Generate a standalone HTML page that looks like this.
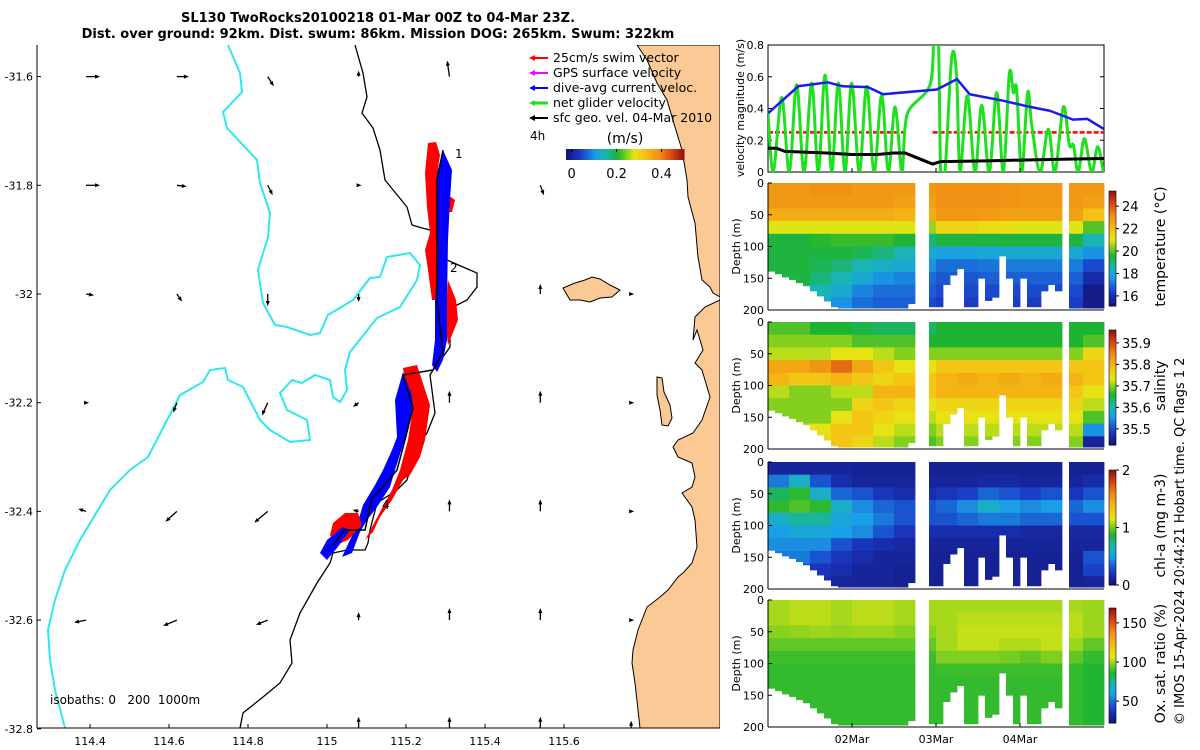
<!DOCTYPE html>
<html><head><meta charset="utf-8"><style>
html,body{margin:0;padding:0;background:#fff;}
svg{display:block;font-family:"DejaVu Sans","Liberation Sans",sans-serif;}
</style></head><body>
<svg id="root" width="1200" height="750" viewBox="0 0 1200 750" xmlns="http://www.w3.org/2000/svg">
<text x="378" y="22" text-anchor="middle" font-size="13" font-weight="bold">SL130 TwoRocks20100218 01-Mar 00Z to 04-Mar 23Z.</text>
<text x="378" y="38" text-anchor="middle" font-size="13" font-weight="bold">Dist. over ground: 92km. Dist. swum: 86km. Mission DOG: 265km. Swum: 322km</text>
<g id="map"></g>
<g id="vel"></g>
<g id="heat"></g>
<text transform="translate(1184,725) rotate(-90)" font-size="13">© IMOS 15-Apr-2024 20:44:21 Hobart time. QC flags 1  2</text>
</svg>
<script>
// ---------- velocity panel data ----------
const blueT=[0,0.36,0.71,0.89,1.19,1.37,2.01,2.25,2.4,2.79,3.12,3.36,3.63,3.8,4.0];
const blueV=[0.37,0.54,0.565,0.54,0.535,0.49,0.52,0.585,0.49,0.45,0.41,0.385,0.33,0.335,0.27];
const blackT=[0,0.1,0.2,0.7,1.0,1.3,1.5,1.63,1.96,2.05,2.6,3.0,3.5,4.0];
const blackV=[0.15,0.15,0.13,0.12,0.11,0.11,0.12,0.12,0.05,0.065,0.07,0.075,0.08,0.085];
const greenT=[0,0.063,0.163,0.254,0.341,0.429,0.52,0.599,0.679,0.758,0.837,0.917,0.996,1.087,1.175,1.262,1.353,1.433,1.512,1.591,1.631,1.69,1.929,1.976,2.028,2.056,2.107,2.187,2.246,2.286,2.373,2.464,2.544,2.635,2.722,2.802,2.873,2.921,2.96,3.02,3.091,3.139,3.238,3.337,3.417,3.516,3.587,3.635,3.694,3.766,3.853,3.925,3.992];
const greenV=[0.37,0,0.47,0,0.55,0,0.56,0,0.61,0,0.56,0,0.56,0,0.54,0,0.48,0,0.41,0,0.28,0.4,0.55,0.85,0.85,0,0,0.72,0.6,0,0.48,0,0.42,0,0.5,0,0.62,0.5,0.52,0,0.5,0.3,0,0.27,0,0.41,0.17,0.17,0,0.21,0,0.16,0];
const swimSegs=[[0,1.63],[1.96,4.0]];
const swimV=0.25;
const velTicks=[0,0.2,0.4,0.6,0.8];
const dateTicks=[1,2,3];
const dateLabels=["02Mar","03Mar","04Mar"];
// ---------- section data (columns of 6h, rows of 20 m) ----------
const tempGrid=[
[23,23,22.5,21,19.5,19.5,19.5,19.5,19,19],[23,23,22.5,21,19.5,19.5,19.5,19.5,19,18.5],
[23.2,23,22.5,21,19.7,19.5,19.3,19,18.5,18],[23.2,23,22.5,21,19.8,19.5,19,18.5,18,17.5],
[23,23,22.5,21,19.8,19.3,18.5,18,17.3,17],[23,23,22.5,21,19.8,19,18.2,17.5,17,16.8],
[23,22.8,22.3,21,19.6,18.5,18,17.3,17,16.8],[23,22.8,22.5,20.5,19,18,17.5,17,16.8,16.5],
[23.2,23.2,23,21.5,19.5,17.8,17,16.7,16.5,16.3],[23.2,23.2,23,21.5,19.5,17.8,17,16.7,16.5,16.3],
[23.2,23.2,22.9,21.3,19.5,17.9,17.1,16.8,16.5,16.3],[23.1,23.1,22.8,21.2,19.5,18,17.2,16.8,16.5,16.3],
[23,23,22.8,21,19.5,18,17.2,16.8,16.5,16.3],[23,23,22.8,21,19.5,18,17.2,16.8,16.5,16.3],
[23,23,22.8,21,19.5,18,17.2,16.8,16.5,16.3],[23,22.8,22,20,18.5,17.5,16.5,15.8,15.3,15.3]];
const salGrid=[
[35.68,35.7,35.72,35.82,35.8,35.72,35.7,35.7,35.7,35.7],[35.68,35.7,35.72,35.82,35.78,35.7,35.7,35.7,35.72,35.74],
[35.66,35.7,35.72,35.84,35.78,35.7,35.7,35.7,35.74,35.76],[35.66,35.7,35.74,35.88,35.8,35.72,35.7,35.74,35.78,35.78],
[35.65,35.68,35.74,35.82,35.78,35.72,35.76,35.78,35.78,35.76],[35.64,35.68,35.72,35.78,35.76,35.8,35.78,35.76,35.74,35.72],
[35.64,35.68,35.7,35.74,35.78,35.8,35.76,35.74,35.72,35.7],[35.64,35.66,35.7,35.74,35.78,35.78,35.74,35.72,35.7,35.68],
[35.66,35.66,35.7,35.78,35.8,35.8,35.76,35.74,35.72,35.7],[35.66,35.66,35.7,35.78,35.81,35.8,35.76,35.74,35.72,35.7],
[35.66,35.66,35.7,35.78,35.8,35.8,35.76,35.74,35.72,35.7],[35.66,35.66,35.7,35.78,35.81,35.8,35.76,35.74,35.72,35.7],
[35.66,35.66,35.7,35.78,35.8,35.8,35.76,35.74,35.72,35.7],[35.66,35.66,35.7,35.78,35.81,35.8,35.76,35.74,35.72,35.7],
[35.66,35.66,35.7,35.78,35.8,35.78,35.76,35.74,35.72,35.7],[35.66,35.68,35.76,35.78,35.78,35.74,35.72,35.68,35.55,35.45]];
const chlGrid=[
[0.1,0.4,0.8,0.9,0.6,0.5,0.45,0.4,0.3,0.3],[0.1,0.6,0.9,0.95,0.7,0.55,0.45,0.4,0.3,0.3],
[0.1,0.3,0.6,0.9,0.7,0.55,0.45,0.3,0.2,0.15],[0.1,0.15,0.35,0.6,0.55,0.5,0.3,0.2,0.15,0.1],
[0.08,0.1,0.3,0.45,0.5,0.45,0.2,0.15,0.1,0.1],[0.08,0.1,0.2,0.35,0.4,0.3,0.15,0.1,0.1,0.1],
[0.08,0.1,0.15,0.3,0.3,0.2,0.12,0.1,0.08,0.08],[0.08,0.1,0.15,0.3,0.3,0.15,0.1,0.08,0.08,0.08],
[0.08,0.1,0.2,0.35,0.3,0.15,0.1,0.08,0.08,0.08],[0.08,0.1,0.25,0.45,0.35,0.15,0.1,0.08,0.08,0.08],
[0.08,0.12,0.35,0.6,0.4,0.15,0.1,0.08,0.08,0.08],[0.08,0.12,0.3,0.5,0.4,0.15,0.1,0.08,0.08,0.08],
[0.08,0.1,0.25,0.45,0.35,0.12,0.1,0.08,0.08,0.08],[0.08,0.1,0.3,0.5,0.35,0.12,0.1,0.08,0.08,0.08],
[0.08,0.1,0.2,0.35,0.3,0.12,0.1,0.08,0.08,0.08],[0.08,0.15,0.3,0.45,0.3,0.12,0.1,0.3,0.25,0.1]];
const oxyGrid=[
[101,101,98,94,90,89,89,89,89,89],[103,103,99,94,90,89,89,89,89,89],[103,103,100,94,90,89,89,89,89,89],
[101,101,99,94,90,89,89,89,89,89],[103,103,100,94,90,89,89,89,89,89],[103,103,100,94,90,89,89,89,89,89],
[101,101,98,94,90,89,89,89,89,89],[101,101,98,94,90,89,89,89,89,89],[101,101,101,101,97,90,89,89,89,89],
[101,103,104,104,97,90,89,89,89,89],[101,103,104,104,97,90,89,89,89,89],[101,103,104,102,96,90,89,89,89,89],
[101,103,104,102,94,90,89,89,89,89],[101,103,104,104,97,90,89,89,89,89],[101,103,103,100,94,89,89,89,89,89],
[100,100,100,94,89,87,87,87,87,87]];
const maxDepth=[139,143,148,152,157,162,170,178,186,195,197,197,197,197,197,197,197,197,197,197,190,0,0,195,195,160,145,135,195,195,150,185,180,115,150,195,150,195,195,170,160,170,0,197,197,197,197,197];
const depthTicks=[0,50,100,150,200];
const tempTicks=[16,18,20,22,24], salTicks=[35.5,35.6,35.7,35.8,35.9], chlTicks=[0,1,2], oxyTicks=[50,100,150];
// ---------- map data ----------
const lonTicks=[114.4,114.6,114.8,115,115.2,115.4,115.6];
const latTicks=[-31.6,-31.8,-32,-32.2,-32.4,-32.6,-32.8];
const arrowLon=[114.39,114.62,114.85,115.08,115.31,115.54,115.77];
const arrowLat=[-31.6,-31.8,-32,-32.2,-32.4,-32.6,-32.8];
const arrowU=[[0.24,0.2,0.1,0,-0.04,0,0],[0.24,0.16,0.08,0.02,0,0.06,0],[0.12,0.08,0,0,0,0,0.02],
[0.02,-0.06,-0.1,-0.08,0,0,0.02],[-0.12,-0.2,-0.24,-0.08,0,0,0.02],[-0.2,-0.24,-0.2,0,0,0,0.02],[0,0,0.06,0,0,0,0]];
const arrowV=[[0,0,-0.16,0.08,0.28,0,0],[0,-0.02,-0.16,0,0,-0.16,0],[-0.02,-0.12,-0.2,-0.12,0,0.16,0],
[0,-0.16,-0.22,-0.06,0.2,0.2,0],[0.04,-0.18,-0.2,0.02,0.2,0.2,0],[-0.04,-0.1,-0.08,0.12,0.2,0.2,0],[0,0,-0.08,0.2,0.2,0.2,0.12]];
const cbTicks=[0,0.2,0.4];

const NS="http://www.w3.org/2000/svg";
function el(tag,attrs,parent){const e=document.createElementNS(NS,tag);for(const k in attrs)e.setAttribute(k,attrs[k]);parent.appendChild(e);return e;}
const CM=[[0,[20,20,122]],[0.12,[26,60,200]],[0.25,[26,160,230]],[0.33,[26,180,180]],[0.44,[30,180,50]],[0.52,[140,210,30]],[0.58,[230,230,20]],[0.68,[245,190,20]],[0.8,[240,140,20]],[0.9,[220,70,20]],[1,[150,20,20]]];
function jet(x){x=Math.max(0,Math.min(1,x));for(let i=1;i<CM.length;i++){if(x<=CM[i][0]){const a=CM[i-1],b=CM[i],f=(x-a[0])/(b[0]-a[0]);
 return 'rgb('+a[1].map((c,k)=>Math.round(c+(b[1][k]-c)*f)).join(',')+')';}}return 'rgb(150,20,20)';}

// ===== velocity panel =====
const vel=document.getElementById('vel');
const tx=t=>768+t*84, vy=v=>172-v*158.75;
const vr=el('rect',{x:768,y:45,width:336,height:127,fill:'none',stroke:'#000','stroke-width':1},vel);

velTicks.forEach(v=>{el('line',{x1:768,x2:772,y1:vy(v),y2:vy(v),stroke:'#000'},vel);el('line',{x1:1100,x2:1104,y1:vy(v),y2:vy(v),stroke:'#000'},vel);
 const t=el('text',{x:764,y:vy(v)+4,'text-anchor':'end','font-size':11},vel);t.textContent=v===0?'0':v.toFixed(1);
 });
const vl=el('text',{transform:'translate(744,108) rotate(-90)','text-anchor':'middle','font-size':11},vel);vl.textContent='velocity magnitude (m/s)';

const clipV=el('clipPath',{id:'cv'},vel);el('rect',{x:768,y:45,width:336,height:127},clipV);
const gV=el('g',{'clip-path':'url(#cv)'},vel);
swimSegs.forEach(s=>{const l=el('line',{x1:tx(s[0]),x2:tx(s[1]),y1:vy(swimV),y2:vy(swimV),stroke:'#f00','stroke-width':2.5,'stroke-dasharray':'5 2'},gV);
 });
function poly(T,V,color,w,name,smooth){const P=T.map((t,i)=>[tx(t),vy(V[i])]);let d='M'+P[0][0]+','+P[0][1];
 for(let i=0;i<P.length-1;i++){ if(!smooth){d+=' L'+P[i+1][0]+','+P[i+1][1];continue;}
  const p0=P[Math.max(0,i-1)],p1=P[i],p2=P[i+1],p3=P[Math.min(P.length-1,i+2)];
  const c1=[p1[0]+(p2[0]-p0[0])/6,p1[1]+(p2[1]-p0[1])/6],c2=[p2[0]-(p3[0]-p1[0])/6,p2[1]-(p3[1]-p1[1])/6];
  d+=` C${c1[0]},${c1[1]} ${c2[0]},${c2[1]} ${p2[0]},${p2[1]}`;}
 const p=el('path',{d:d,fill:'none',stroke:color,'stroke-width':w,'stroke-linejoin':'round'},gV);
 }
poly(greenT,greenV,'#1ee01e',3,'net-glider-velocity-line',true);
poly(blackT,blackV,'#000',3,'surface-geo-velocity-line',false);
poly(blueT,blueV,'#1a1aee',2.5,'dive-avg-current-line',false);

// ===== section panels =====
const heat=document.getElementById('heat');
const panels=[
 {top:183,grid:tempGrid,min:15.1,max:25.35,ticks:tempTicks,label:'temperature (°C)',name:'temperature',fmt:v=>String(v)},
 {top:322,grid:salGrid,min:35.425,max:35.96,ticks:salTicks,label:'salinity',name:'salinity',fmt:v=>v.toFixed(1)},
 {top:462,grid:chlGrid,min:0,max:2,ticks:chlTicks,label:'chl-a (mg m-3)',name:'chlorophyll',fmt:v=>String(v)},
 {top:600,grid:oxyGrid,min:22,max:169,ticks:oxyTicks,label:'Ox. sat. ratio (%)',name:'oxygen',fmt:v=>String(v)}];
const H=127, dy=d=>d/200*H;
panels.forEach((P,pi)=>{
 const g=el('g',{},heat);
 maxDepth.forEach((md,i)=>{ if(!md) return; const col=P.grid[Math.floor(i/3)];
  for(let j=0;j<10;j++){const d0=j*20; if(d0>=md) break; const d1=Math.min(md,d0+20);
   const r=el('rect',{x:tx(i/12),y:P.top+dy(d0),width:84/12+0.4,height:dy(d1-d0)+0.4,fill:jet((col[j]-P.min)/(P.max-P.min))},g);
   }});
 el('line',{x1:768,x2:768,y1:P.top,y2:P.top+H,stroke:'#000'},heat);
 el('line',{x1:768,x2:1104,y1:P.top+H,y2:P.top+H,stroke:'#000'},heat);
 depthTicks.forEach(d=>{el('line',{x1:768,x2:772,y1:P.top+dy(d),y2:P.top+dy(d),stroke:'#000'},heat);
  const t=el('text',{x:764,y:P.top+dy(d)+4,'text-anchor':'end','font-size':11},heat);t.textContent=d;
  });
 const dl=el('text',{transform:`translate(740,${P.top+H/2}) rotate(-90)`,'text-anchor':'middle','font-size':11},heat);dl.textContent='Depth (m)';
 
 const cbTop=P.top+8, cbH=115;
 for(let k=0;k<64;k++){const r=el('rect',{x:1109,y:cbTop+cbH-(k+1)*cbH/64,width:7,height:cbH/64+0.5,fill:jet(k/63)},heat);
  }
 el('rect',{x:1109,y:cbTop,width:7,height:cbH,fill:'none',stroke:'#000','stroke-width':0.6},heat);
 P.ticks.forEach(v=>{const y=cbTop+cbH-(v-P.min)/(P.max-P.min)*cbH;el('line',{x1:1116,x2:1119,y1:y,y2:y,stroke:'#000'},heat);
  const t=el('text',{x:1122,y:y+5,'font-size':13},heat);t.textContent=P.fmt(v);
  });
 const cl=el('text',{transform:`translate(1165,${P.top+H/2}) rotate(-90)`,'text-anchor':'middle','font-size':14},heat);cl.textContent=P.label;
 
});
dateTicks.forEach((d,i)=>{[45+127,727].forEach(y=>el('line',{x1:tx(d),x2:tx(d),y1:y,y2:y-4,stroke:'#000'},heat));
 const t=el('text',{x:tx(d),y:743,'text-anchor':'middle','font-size':11},heat);t.textContent=dateLabels[i];
 });

// ===== map =====
const map=document.getElementById('map');
const lx=lon=>327+(lon-115)*395, ly=lat=>294+(-32-lat)*543.5;
const clipM=el('clipPath',{id:'cm'},map);el('rect',{x:37,y:45,width:683,height:683},clipM);
const gm=el('g',{'clip-path':'url(#cm)'},map);
const land="637,45 647,60 657,83 667,100 675,127 682,150 687,180 688,197 695,223 698,257 702,280 710,287 713,293 720,297 720,300 705,307 695,317 693,340 697,330 703,350 695,363 702,370 710,397 702,420 693,433 678,440 673,447 678,457 692,463 695,477 692,487 682,493 692,507 695,520 697,547 692,563 683,573 678,577 668,590 660,597 647,607 638,630 633,650 632,663 635,683 640,728 720,728 720,45";
const lp=el('polygon',{points:land,fill:'#fbc995',stroke:'#000','stroke-width':1},gm);
const isl=el('polygon',{points:"563,288 575,283 585,280 592,277 600,279 610,285 620,290 612,297 600,298 590,302 580,300 570,300",fill:'#fbc995',stroke:'#000','stroke-width':1},gm);

const isl2=el('polygon',{points:"657,377 662,378 664,392 670,405 672,418 668,426 662,425 660,410 657,395",fill:'#fbc995',stroke:'#000','stroke-width':1},gm);

const iso200="355,45 363,73 367,97 362,113 373,128 380,150 385,180 407,207 412,225 422,228 430,230 437,240 447,260 463,267 477,273 477,287 467,300 453,307 447,317 450,340 450,347 443,357 433,370 430,375 435,413 427,433 417,447 412,463 407,480 397,490 377,503 370,530 368,543 365,550 347,550 333,553 330,563 317,583 300,613 290,640 292,663 280,683 263,697 243,713 240,728";
const ib=el('polyline',{points:iso200,fill:'none',stroke:'#000','stroke-width':1.3},gm);
const iso1000="228,45 240,73 242,92 223,112 227,128 257,160 260,183 270,213 268,237 258,270 263,303 275,325 287,327 310,335 320,333 328,315 353,300 370,278 380,277 387,257 410,253 420,265 417,280 400,307 377,318 350,352 345,370 347,390 340,402 333,397 330,380 315,375 302,383 292,380 280,393 287,410 307,420 310,440 290,442 270,430 260,420 243,387 228,380 225,368 210,370 203,382 180,395 163,428 148,457 130,470 110,490 95,515 80,540 65,570 55,600 48,630 50,660 55,690 65,728";
const ic=el('polyline',{points:iso1000,fill:'none',stroke:'#2ee8ee','stroke-width':2},gm);
const trackParts=[
 ['#f00',"428,143 436,142 440,155 437,175 437,210 438,260 436,300 432,300 428,270 425,250 430,233 427,207 425,173",'swim-vector-fan'],
 ['#f00',"448,195 455,200 452,212 448,212",'swim-vector-fan'],
 ['#f00',"448,280 456,300 458,320 448,345 445,320",'swim-vector-fan'],
 ['#00f',"443,150 452,170 450,200 448,240 447,300 447,340 443,360 437,372 432,365 435,340 435,300 438,260 437,200 437,173",'current-vector-fan'],
 ['#f00',"403,368 417,365 430,405 425,440 420,457 410,475 403,480 392,500 380,517 373,532 365,540 380,512 392,490 400,470 408,440 413,408 405,380",'swim-vector-fan'],
 ['#00f',"403,372 412,395 413,408 408,430 403,445 395,470 390,487 377,507 367,520 360,532 352,553 342,557 350,540 357,525 363,505 375,485 383,470 392,450 397,437 395,400",'current-vector-fan'],
 ['#f00',"333,523 345,513 358,513 362,525 348,540 336,545 330,535",'swim-vector-fan'],
 ['#00f',"320,553 327,540 343,527 350,530 337,548 327,560",'current-vector-fan']];
trackParts.forEach(p=>{const e=el('polygon',{points:p[1],fill:p[0]},gm);});
const tr=el('polyline',{points:"443,150 437,180 437,300 443,352 433,370 403,375 413,408 405,440 397,470 383,487 372,498 365,530 345,530 333,545",fill:'none',stroke:'#000','stroke-width':1.5},gm);

[['1',455,158],['2',450,272],['4',382,509]].forEach(a=>{const t=el('text',{x:a[1],y:a[2],'font-size':12},gm);t.textContent=a[0];
 });
arrowLat.forEach((la,r)=>arrowLon.forEach((lo,c)=>{const x0=lx(lo),y0=ly(la),u=arrowU[r][c]*50,v=-arrowV[r][c]*50;
 const g=el('g',{},gm);
 el('line',{x1:x0,y1:y0,x2:x0+u,y2:y0+v,stroke:'#000','stroke-width':1.3},g);
 const L=Math.hypot(u,v)||1;const ux=u/L,uy=v/L,hx=x0+u,hy=y0+v;
 el('polygon',{points:`${hx+ux*2},${hy+uy*2} ${hx-ux*3-uy*2},${hy-uy*3+ux*2} ${hx-ux*3+uy*2},${hy-uy*3-ux*2}`,fill:'#000'},g);}));
el('line',{x1:37,x2:37,y1:45,y2:728,stroke:'#000'},map);el('line',{x1:37,x2:720,y1:728,y2:728,stroke:'#000'},map);
lonTicks.forEach(v=>{el('line',{x1:lx(v),x2:lx(v),y1:728,y2:724,stroke:'#000'},map);
 const t=el('text',{x:lx(v),y:745,'text-anchor':'middle','font-size':11},map);t.textContent=String(v);
 });
latTicks.forEach(v=>{el('line',{x1:37,x2:41,y1:ly(v),y2:ly(v),stroke:'#000'},map);
 const t=el('text',{x:33,y:ly(v)+4,'text-anchor':'end','font-size':11},map);t.textContent=String(v);
 });
const iso=el('text',{x:50,y:704,'font-size':12,style:'white-space:pre'},map);iso.textContent='isobaths: 0   200  1000m';

const leg=[['#f00','25cm/s swim vector'],['#f0f','GPS surface velocity'],['#00f','dive-avg current veloc.'],['#1ee01e','net glider velocity'],['#000','sfc geo. vel. 04-Mar 2010']];
leg.forEach((l,i)=>{const y=62+i*15;const g=el('g',{},map);
 el('line',{x1:533,x2:548,y1:y-4,y2:y-4,stroke:l[0],'stroke-width':i===3?3:2},g);
 el('polygon',{points:`529,${y-4} 535,${y-7} 535,${y-1}`,fill:l[0]},g);
 const t=el('text',{x:553,y:y,'font-size':12.5},g);t.textContent=l[1];});
const h4=el('text',{x:530,y:140,'font-size':12},map);h4.textContent='4h';
const ms=el('text',{x:625,y:143,'text-anchor':'middle','font-size':14},map);ms.textContent='(m/s)';
for(let k=0;k<64;k++){const r=el('rect',{x:566+k*118/64,y:149,width:118/64+0.5,height:11,fill:jet(k/63)},map);
 }
cbTicks.forEach(v=>{const x=566+(v+0.025)/0.525*118;el('line',{x1:x,x2:x,y1:149,y2:152,stroke:'#000'},map);
 const t=el('text',{x:x,y:178,'text-anchor':'middle','font-size':13},map);t.textContent=v===0?'0':v.toFixed(1);
 });
</script>
</body></html>
